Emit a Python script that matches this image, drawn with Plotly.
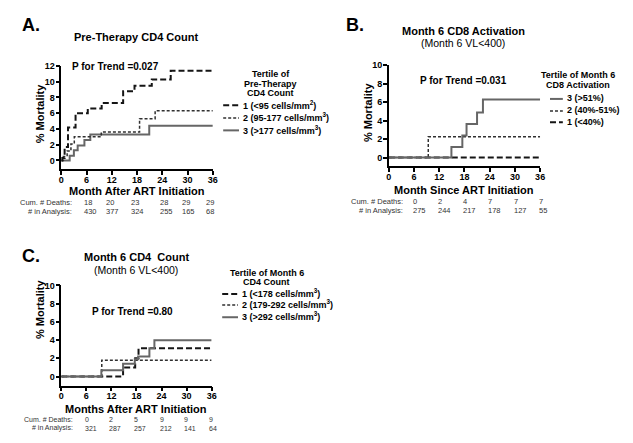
import plotly.graph_objects as go

W, H = 633, 443
FONT = "Arial, Liberation Sans, Helvetica, sans-serif"

# ---------------- Data ----------------
month_ticks = [0, 6, 12, 18, 24, 30, 36]

# Panel A: Pre-Therapy CD4 count tertiles
a_t1_month = [0, 0.2, 0.8, 1.6, 3.4, 6.3, 9.6, 14.7, 17.4, 21.5, 26.0, 36]
a_t1_mort = [0, 0.3, 1.7, 4.2, 6.0, 6.6, 7.3, 8.8, 9.5, 10.3, 11.4, 11.4]
a_t2_month = [0, 0.5, 1.4, 2.3, 3.1, 9.5, 18.6, 22.3, 36]
a_t2_mort = [0, 0.5, 1.2, 2.1, 3.0, 3.6, 5.3, 6.3, 6.3]
a_t3_month = [0, 2.0, 3.0, 3.9, 5.5, 6.9, 20.9, 36]
a_t3_mort = [0, 0.6, 1.3, 1.9, 2.6, 3.3, 4.4, 4.4]
a_deaths = ["18", "20", "23", "28", "29", "29"]
a_analysis = ["430", "377", "324", "255", "165", "68"]

# Panel B: Month 6 CD8 activation tertiles
b_t3_month = [0, 14.9, 17.5, 18.5, 21.0, 22.4, 36]
b_t3_mort = [0, 1.15, 2.4, 3.65, 4.9, 6.3, 6.3]
b_t2_month = [0, 9.4, 36]
b_t2_mort = [0, 2.25, 2.25]
b_t1_month = [0, 36]
b_t1_mort = [0, 0]
b_deaths = ["0", "2", "4", "7", "7", "7"]
b_analysis = ["275", "244", "217", "178", "127", "55"]

# Panel C: Month 6 CD4 count tertiles
c_t1_month = [0, 14.8, 17.7, 18.5, 36]
c_t1_mort = [0, 1.0, 2.0, 3.1, 3.1]
c_t2_month = [0, 9.7, 36]
c_t2_mort = [0, 1.8, 1.8]
c_t3_month = [0, 9.6, 14.8, 17.6, 18.4, 21.1, 22.3, 36]
c_t3_mort = [0, 0.7, 1.4, 1.9, 2.2, 3.1, 4.0, 4.0]
c_deaths = ["0", "2", "5", "9", "9", "9"]
c_analysis = ["321", "287", "257", "212", "141", "64"]

# ---------------- Styles ----------------
DASH_LONG = dict(color="#151515", width=2, dash="6px,3px")
DASH_SHORT = dict(color="#303030", width=1.5, dash="3px,2px")
SOLID = dict(color="#666666", width=2)


def px(x):
    return x / W


def py(y):
    return 1 - y / H


fig = go.Figure()


def add_series(xs, ys, style, ax):
    fig.add_trace(go.Scatter(
        x=xs, y=ys, mode="lines", line=dict(shape="hv", **style),
        xaxis="x" + ax, yaxis="y" + ax, showlegend=False, hoverinfo="skip"))


add_series(a_t3_month, a_t3_mort, SOLID, "")
add_series(a_t2_month, a_t2_mort, DASH_SHORT, "")
add_series(a_t1_month, a_t1_mort, DASH_LONG, "")

add_series(b_t1_month, b_t1_mort, DASH_LONG, "2")
add_series(b_t2_month, b_t2_mort, DASH_SHORT, "2")
add_series(b_t3_month, b_t3_mort, SOLID, "2")

add_series(c_t1_month, c_t1_mort, DASH_LONG, "3")
add_series(c_t2_month, c_t2_mort, DASH_SHORT, "3")
add_series(c_t3_month, c_t3_mort, SOLID, "3")


def ax_common():
    return dict(showline=True, linecolor="black", linewidth=1.5,
                ticks="outside", ticklen=4, tickwidth=1.5, tickcolor="black",
                showgrid=False, zeroline=False,
                tickfont=dict(size=9, family=FONT, color="black", weight="bold"))


def xaxis(domain, anchor):
    d = ax_common()
    d.update(domain=domain, range=[0, 36], tickvals=month_ticks, anchor=anchor,
             ticklabelstandoff=-3)
    return d


def yaxis(domain, rng, top, anchor):
    d = ax_common()
    d.update(domain=domain, range=rng, tickvals=list(range(0, top + 1, 2)), anchor=anchor,
             ticklabelstandoff=-1)
    return d


fig.update_layout(
    width=W, height=H, margin=dict(l=0, r=0, t=0, b=0),
    paper_bgcolor="white", plot_bgcolor="white",
    font=dict(family=FONT, color="black"),
    xaxis=xaxis([px(59), px(212.5)], "y"),
    yaxis=yaxis([py(166), py(61.7)], [-1.1, 12], 12, "x"),
    xaxis2=xaxis([px(390.7), px(544)], "y2"),
    yaxis2=yaxis([py(163.3), py(61)], [-0.96, 10], 10, "x2"),
    xaxis3=xaxis([px(59), px(211.3)], "y3"),
    yaxis3=yaxis([py(385), py(283.7)], [-1.0, 10], 10, "x3"),
)

ann = []


def text(x, y, s, size, bold=False, anchor="center", color="black", angle=0):
    ann.append(dict(x=px(x), y=py(y), xref="paper", yref="paper", text=s,
                    showarrow=False, xanchor=anchor, yanchor="middle",
                    textangle=angle,
                    font=dict(size=size, family=FONT, color=color,
                              weight="bold" if bold else "normal")))


shapes = []


def sample(x0, x1, y, style):
    shapes.append(dict(type="line", xref="paper", yref="paper",
                       x0=px(x0), x1=px(x1), y0=py(y), y1=py(y),
                       line=dict(color=style["color"], width=style["width"],
                                 dash=style.get("dash", "solid"))))


def table(label_x, y_d, y_a, cols, deaths, analysis, size=7.5):
    text(label_x, y_d, "Cum. # Deaths:", size, color="#333", anchor="right")
    text(label_x, y_a, "# in Analysis:", size, color="#333", anchor="right")
    for cx, d, a in zip(cols, deaths, analysis):
        text(cx, y_d, d, size, color="#333", anchor="left")
        text(cx, y_a, a, size, color="#333", anchor="left")


# ---- Panel A ----
text(28, 20, "A.", 18, bold=True)
text(135, 32, "Pre-Therapy CD4 Count", 11, bold=True)
text(68, 62, "P for Trend =0.027", 10, bold=True, anchor="left")
text(271, 69.3, "Tertile of", 9, bold=True)
text(271, 79.5, "Pre-Therapy", 9, bold=True)
text(271, 89.5, "CD4 Count", 9, bold=True)
text(241, 100.7, "1 (&lt;95 cells/mm<sup>2</sup>)", 9, bold=True, anchor="left")
text(241, 113.5, "2 (95-177 cells/mm<sup>3</sup>)", 9, bold=True, anchor="left")
text(241, 126, "3 (&gt;177 cells/mm<sup>3</sup>)", 9, bold=True, anchor="left")
sample(223, 239, 101.5, DASH_LONG)
sample(223, 239, 114.3, DASH_SHORT)
sample(223, 239, 126.8, SOLID)
text(135.5, 188, "Month After ART Initiation", 11, bold=True)
text(37, 110, "% Mortality", 11, bold=True, angle=-90)
table(72, 200, 208.7, [80, 102, 128, 157, 179.5, 204], a_deaths, a_analysis)

# ---- Panel B ----
text(356, 20, "B.", 18, bold=True)
text(466, 26, "Month 6 CD8 Activation", 11, bold=True)
text(466, 38, "(Month 6 VL&lt;400)", 10.5)
text(420, 76, "P for Trend =0.031", 10, bold=True, anchor="left")
text(582, 71, "Tertile of Month 6", 9, bold=True)
text(582, 80.7, "CD8 Activation", 9, bold=True)
text(569, 94.3, "3 (&gt;51%)", 9, bold=True, anchor="left")
text(569, 106.5, "2 (40%-51%)", 9, bold=True, anchor="left")
text(569, 118, "1 (&lt;40%)", 9, bold=True, anchor="left")
sample(554, 567, 95, SOLID)
sample(554, 567, 107.2, DASH_SHORT)
sample(554, 567, 118.7, DASH_LONG)
text(467, 187, "Month Since ART Initiation", 11, bold=True)
text(369, 108, "% Mortality", 11, bold=True, angle=-90)
table(407.5, 199, 208, [413.5, 438.5, 464, 489, 515.5, 540.5], b_deaths, b_analysis)

# ---- Panel C ----
text(28, 254, "C.", 18, bold=True)
text(135, 255, "Month 6 CD4  Count", 11, bold=True)
text(135, 268.5, "(Month 6 VL&lt;400)", 10.5)
text(88, 310, "P for Trend =0.80", 10, bold=True, anchor="left")
text(267, 270.7, "Tertile of Month 6", 9, bold=True)
text(267, 280.3, "CD4 Count", 9, bold=True)
text(240, 291.5, "1 (&lt;178 cells/mm<sup>3</sup>)", 9, bold=True, anchor="left")
text(240, 302.8, "2 (179-292 cells/mm<sup>3</sup>)", 9, bold=True, anchor="left")
text(240, 315, "3 (&gt;292 cells/mm<sup>3</sup>)", 9, bold=True, anchor="left")
sample(222, 238, 292.3, DASH_LONG)
sample(222, 238, 303.5, DASH_SHORT)
sample(222, 238, 315.8, SOLID)
text(134.7, 408.3, "Months After ART Initiation", 11, bold=True)
text(37, 308, "% Mortality", 11, bold=True, angle=-90)
table(72.7, 419.5, 428, [80.7, 105.5, 130.3, 156.7, 181, 207], c_deaths, c_analysis, size=7)

fig.update_layout(annotations=ann, shapes=shapes)
fig.write_html("out.html",
               config={"displayModeBar": False},
               post_script="document.body.style.margin='0';document.body.style.overflow='hidden';")
